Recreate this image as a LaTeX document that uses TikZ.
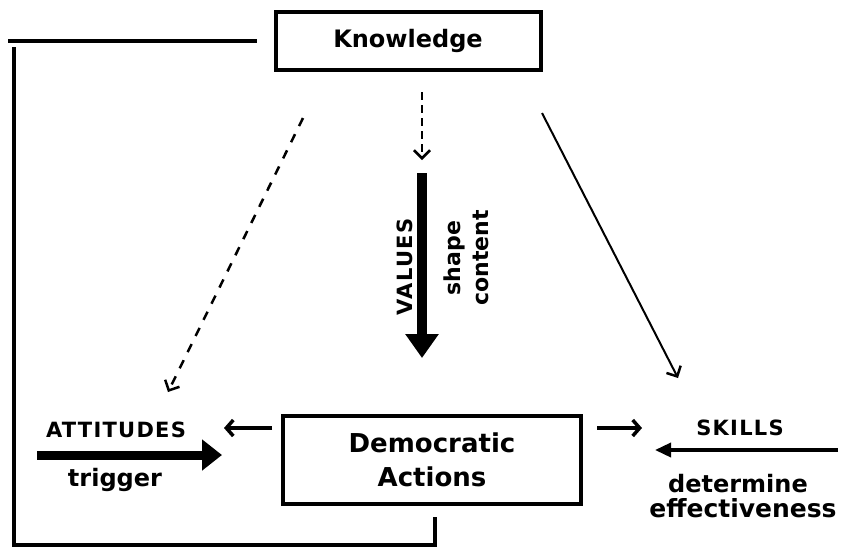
\documentclass[tikz,border=0pt]{standalone}
\usepackage{fontspec}
\setmainfont{DejaVu Sans}
\usetikzlibrary{arrows.meta}
\tikzset{
  boxnode/.style={draw, line width=4pt, font=\bfseries\fontsize{24}{26}\selectfont, inner sep=0pt},
  capslabel/.style={font=\bfseries\fontsize{21}{23}\selectfont\addfontfeatures{LetterSpace=6}, inner sep=0pt},
  boldlabel/.style={font=\bfseries\fontsize{24}{26}\selectfont, inner sep=0pt},
  feedback/.style={line width=4pt},
  dashedarrow/.style={line width=2.5pt, dash pattern=on 9pt off 9pt, -{Straight Barb[length=8pt,width=16pt,line width=2.5pt]}},
  thinarrow/.style={line width=2pt, -{Straight Barb[length=8pt,width=16pt,line width=2.5pt]}},
  bigarrow/.style={line width=10pt, -{Triangle[length=24pt,width=32pt]}},
  smallarrow/.style={line width=4pt, -{Straight Barb[length=7pt,width=16pt,line width=3.5pt]}},
}
\begin{document}
\begin{tikzpicture}[x=1pt,y=-1pt]
\useasboundingbox (0,0) rectangle (846,550);

% main nodes
\node[boxnode, minimum width=265pt, minimum height=58pt] (K) at (408,41) {Knowledge};
\node[boxnode, minimum width=298pt, minimum height=88pt, align=center, font=\bfseries\fontsize{26}{28}\selectfont] (DA) at (432,460) {Democratic\\[6pt]Actions};

% labels
\node[capslabel] (ATT) at (116,430) {ATTITUDES};
\node[boldlabel] (TRIG) at (115,480) {trigger};
\node[capslabel] (SK) at (740,428) {SKILLS};
\node[boldlabel] (DET) at (738,484) {determine};
\node[boldlabel, font=\bfseries\fontsize{25}{27}\selectfont] (EFF) at (743,508) {effectiveness};
\node[capslabel, rotate=90] (VAL) at (405,267) {VALUES};
\node[boldlabel, rotate=90, align=center, font=\bfseries\fontsize{22}{28}\selectfont] (SC) at (466,258) {shape\\content};

% coordinates for free ends
\coordinate (kl) at (303,118);
\coordinate (kltip) at (168,392);
\coordinate (kr) at (542,113);
\coordinate (krtip) at (678,378);
\coordinate (km) at (422,92);
\coordinate (kmtip) at (422,160);
\coordinate (vs) at (422,173);
\coordinate (vtip) at (422,358);
\coordinate (aa1) at (272,428);
\coordinate (aa2) at (224,428);
\coordinate (at1) at (37,455);
\coordinate (at2) at (222,455);
\coordinate (sa1) at (597,428);
\coordinate (sa2) at (642,428);
\coordinate (sk1) at (838,450);
\coordinate (sk2) at (655,450);
\coordinate (fb0) at (435,517);
\coordinate (fb1) at (435,545);
\coordinate (fb2) at (14,545);
\coordinate (fb3) at (14,47);
\coordinate (fb4) at (8,41);
\coordinate (fb5) at ([xshift=-17pt]K.west);

% connectors
\draw[dashedarrow] (kl) -- (kltip);
\draw[thinarrow] (kr) -- (krtip);
\draw[dashedarrow, dash pattern=on 8pt off 5pt] (km) -- (kmtip);
\draw[bigarrow] (vs) -- (vtip);
\draw[smallarrow] (aa1) -- (aa2);
\draw[line width=9pt, -{Triangle[length=20pt,width=30pt]}] (at1) -- (at2);
\draw[smallarrow, line width=3.5pt] (sa1) -- (sa2);
\draw[line width=3.5pt, -{Triangle[length=16pt,width=14pt]}] (sk1) -- (sk2);
\draw[feedback] (fb0) -- (fb1) -- (fb2) -- (fb3);
\draw[feedback] (fb4) -- (fb5);
\end{tikzpicture}
\end{document}
